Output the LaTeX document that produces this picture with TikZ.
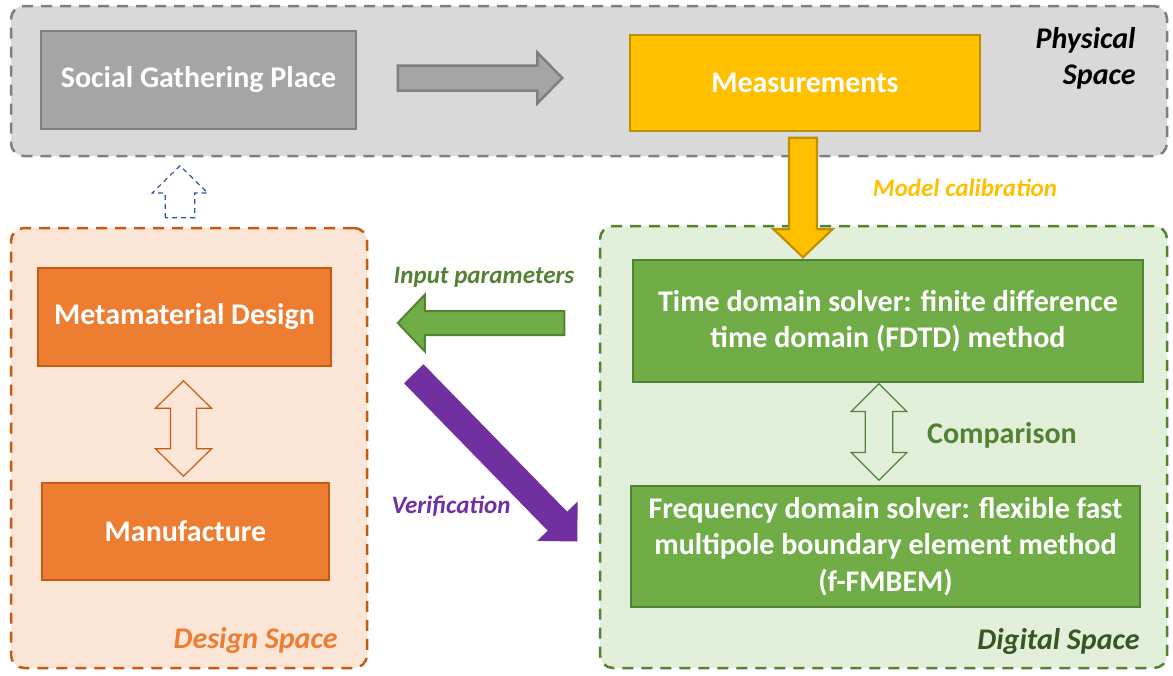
\documentclass[tikz,border=0pt]{standalone}
\usepackage{fontspec}
\setmainfont{Carlito}
\usetikzlibrary{calc,positioning}
% colours
\definecolor{physfill}{HTML}{D9D9D9}
\definecolor{physline}{HTML}{7F7F7F}
\definecolor{socialfill}{HTML}{A5A5A5}
\definecolor{measfill}{HTML}{FFC000}
\definecolor{measline}{HTML}{BF9000}
\definecolor{designfill}{HTML}{FBE5D6}
\definecolor{designline}{HTML}{C55A11}
\definecolor{orangefill}{HTML}{ED7D31}
\definecolor{digitalfill}{HTML}{E2EFDA}
\definecolor{greenline}{HTML}{548235}
\definecolor{greenfill}{HTML}{70AD47}
\definecolor{darkgreen}{HTML}{375623}
\definecolor{purple}{HTML}{7030A0}
\definecolor{dashblue}{HTML}{2F5597}
% block arrow: style, from, to, shaft half, head half, head length
\newcommand{\blockarrow}[6]{%
  \coordinate (bah) at ($(#3)!#6!(#2)$);
  \draw[#1] ($(#2)!#4!90:(#3)$) -- ($(bah)!#4!90:(#3)$) -- ($(bah)!#5!90:(#3)$)
    -- (#3) -- ($(bah)!#5!-90:(#3)$) -- ($(bah)!#4!-90:(#3)$) -- ($(#2)!#4!-90:(#3)$) -- cycle;
}
% double block arrow: style, end a, end b, shaft half, head half, head length
\newcommand{\dblarrow}[6]{%
  \coordinate (dha) at ($(#2)!#6!(#3)$);
  \coordinate (dhb) at ($(#3)!#6!(#2)$);
  \draw[#1] (#2) -- ($(dha)!#5!90:(#3)$) -- ($(dha)!#4!90:(#3)$) -- ($(dhb)!#4!-90:(#2)$)
    -- ($(dhb)!#5!-90:(#2)$) -- (#3) -- ($(dhb)!#5!90:(#2)$) -- ($(dhb)!#4!90:(#2)$)
    -- ($(dha)!#4!-90:(#3)$) -- ($(dha)!#5!-90:(#3)$) -- cycle;
}

\begin{document}
\begin{tikzpicture}[x=1pt, y=-1pt,
  spaceframe/.style={draw, rounded corners=13pt, line width=2.5pt, dash pattern=on 11pt off 8pt, inner sep=0pt},
  block/.style={draw, line width=1.5pt, inner sep=0pt, text=white, align=center,
    font=\fontsize{30}{36.5}\selectfont\bfseries},
  spacelabel/.style={anchor=east, align=right, font=\fontsize{30}{36}\selectfont\bfseries\itshape},
  arrowlabel/.style={font=\fontsize{25}{30}\selectfont\bfseries\itshape},
]
\useasboundingbox (0,0) rectangle (1173,675);
% spaces
\node[spaceframe, fill=physfill, draw=physline, minimum width=1156pt, minimum height=150pt] (physical) at (589,81) {};
\node[spaceframe, fill=designfill, draw=designline, minimum width=356pt, minimum height=440pt] (design) at (189,448) {};
\node[spaceframe, fill=digitalfill, draw=greenline, minimum width=567pt, minimum height=442pt] (digital) at (883.5,447) {};
% blocks
\node[block, fill=socialfill, draw=physline, minimum width=315pt, minimum height=98pt] (social) at (198.5,80) {Social Gathering Place};
\node[block, fill=measfill, draw=measline, minimum width=350pt, minimum height=96pt] (measure) at (805,83) {Measurements};
\node[block, fill=orangefill, draw=designline, minimum width=293pt, minimum height=98pt] (meta) at (184.5,317) {Metamaterial Design};
\node[block, fill=orangefill, draw=designline, minimum width=287pt, minimum height=97pt] (manuf) at (185.5,531.5) {Manufacture};
\node[block, fill=greenfill, draw=greenline, minimum width=510pt, minimum height=122pt] (time) at (888,321)
  {Time domain solver: finite difference\\time domain (FDTD) method};
\node[block, fill=greenfill, draw=greenline, minimum width=509pt, minimum height=121pt] (freq) at (885.5,546.5)
  {Frequency domain solver: flexible fast\\multipole boundary element method\\(f-FMBEM)};
% labels
\node[spacelabel] (physlabel) at (1139,58) {Physical\\Space};
\node[spacelabel, text=orangefill] (designlabel) at (341,640) {Design Space};
\node[spacelabel, text=darkgreen] (digitallabel) at (1143,641) {Digital Space};
\node[arrowlabel, text=measfill] (calib) at (965,188) {Model calibration};
\node[arrowlabel, text=greenline] (input) at (484,277) {Input parameters};
\node[arrowlabel, text=purple] (verif) at (451,506) {Verification};
\node[font=\fontsize{30}{36}\selectfont\bfseries, text=greenline] (compare) at (1002,435) {Comparison};
% arrow ends
\coordinate (gray_a) at ($(social.east)+(41,-2)$);
\coordinate (gray_b) at ($(measure.west)+(-67,-5)$);
\coordinate (yel_a) at ($(measure.south)+(-2,6)$);
\coordinate (yel_b) at ($(measure.south |- time.north)+(-2,-2)$);
\coordinate (grn_a) at ($(time.west)+(-68,2)$);
\coordinate (grn_b) at ($(meta.east)+(66,6)$);
\coordinate (pur_a) at ($(meta.south east)+(82,7)$);
\coordinate (pur_b) at ($(freq.west)+(-53,-5)$);
\coordinate (blu_a) at ($(design.north)+(-9,-9)$);
\coordinate (blu_b) at ($(social.south)+(-18.5,36)$);
\coordinate (org_a) at ($(meta.south)+(-1,14)$);
\coordinate (org_b) at ($(manuf.north)+(-2,-6)$);
\coordinate (cmp_a) at ($(time.south)+(-9,1)$);
\coordinate (cmp_b) at ($(freq.north)+(-6.5,-5)$);
% arrows
\blockarrow{fill=socialfill, draw=physline, line width=2.5pt}{gray_a}{gray_b}{12.5pt}{25.5pt}{25pt}
\blockarrow{fill=measfill, draw=measline, line width=2.2pt, line join=miter}{yel_a}{yel_b}{14pt}{29.5pt}{28pt}
\blockarrow{fill=greenfill, draw=greenline, line width=2pt}{grn_a}{grn_b}{12pt}{28.3pt}{27pt}
\blockarrow{fill=purple, draw=none}{pur_a}{pur_b}{13.6pt}{28.3pt}{28.4pt}
\blockarrow{draw=dashblue, line width=1.2pt, dash pattern=on 5pt off 4pt}{blu_a}{blu_b}{14.7pt}{27.8pt}{27.3pt}
\dblarrow{fill=designfill, draw=designline, line width=1.2pt}{org_a}{org_b}{13pt}{28pt}{27.5pt}
\dblarrow{fill=digitalfill, draw=greenline, line width=1.2pt}{cmp_a}{cmp_b}{13.7pt}{27.8pt}{27.7pt}
\end{tikzpicture}
\end{document}
